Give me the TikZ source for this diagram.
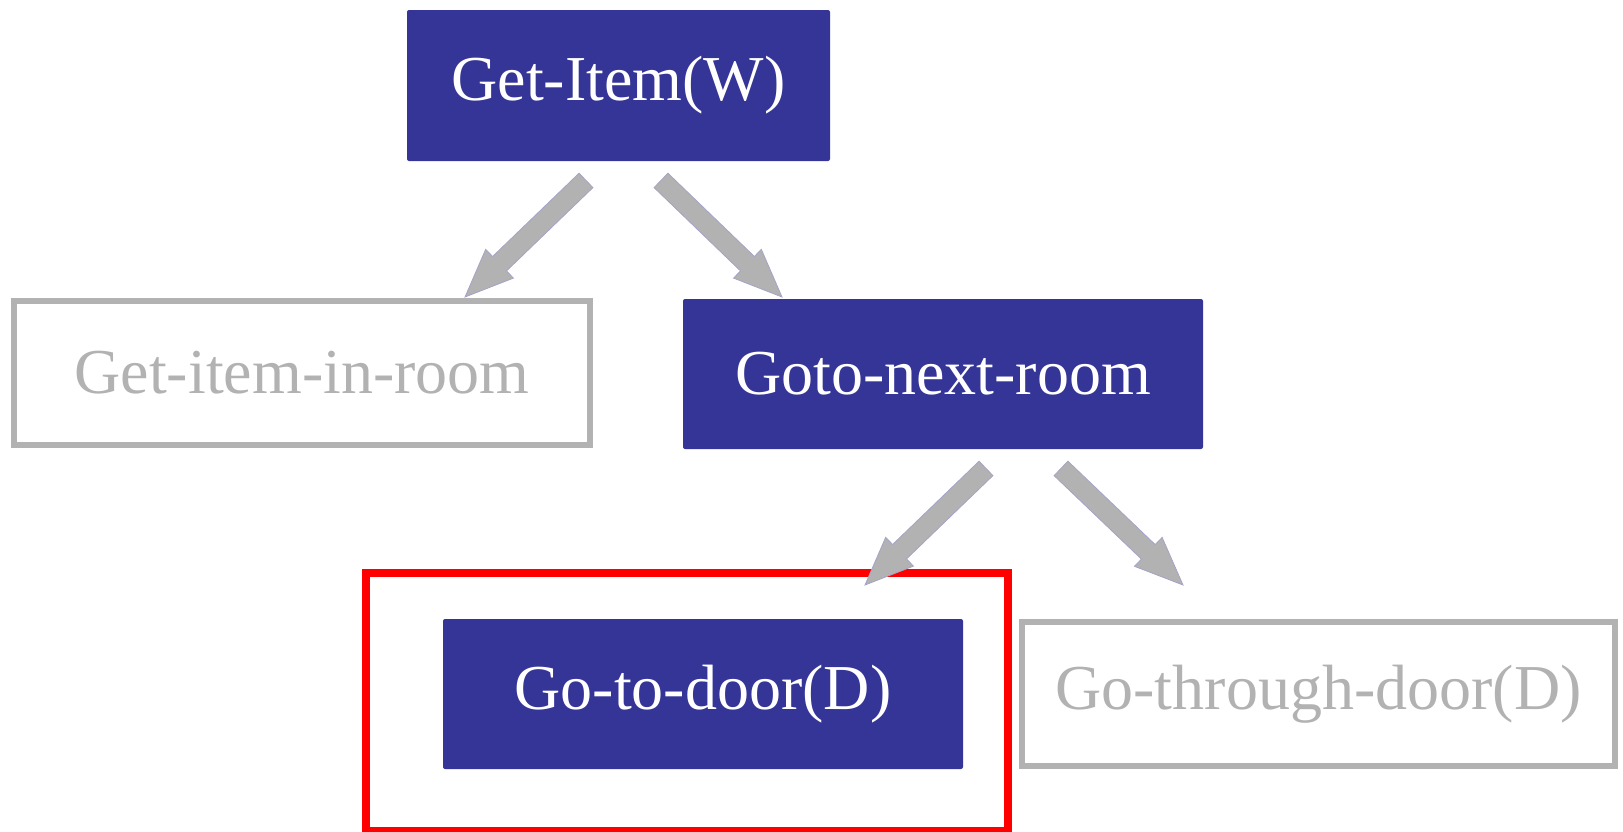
\documentclass[tikz,border=0pt]{standalone}
\usepackage{fontspec}
\setmainfont{Liberation Serif}
\usetikzlibrary{calc}
\definecolor{taskblue}{HTML}{353598}
\definecolor{idlegray}{HTML}{B2B2B2}
\definecolor{arrowedge}{HTML}{A4A4C8}
% block arrow from #1 to #2: shaft half width 5pt, head half width 10pt, head length 24pt
\newcommand{\blockarrow}[2]{%
  \coordinate (hb) at ($(#2)!24pt!(#1)$);
  \filldraw[fatarrow]
    ($(#1)!5pt!90:(#2)$) -- ($(hb)!5pt!-90:(#1)$) -- ($(hb)!10pt!-90:(#1)$) --
    (#2) --
    ($(hb)!10pt!90:(#1)$) -- ($(hb)!5pt!90:(#1)$) -- ($(#1)!5pt!-90:(#2)$) -- cycle;}
\begin{document}
\begin{tikzpicture}[x=0.5pt,y=-0.5pt,
  every node/.style={font=\fontsize{32pt}{38pt}\selectfont, inner sep=0pt},
  active/.style={fill=taskblue, text=white, rounded corners=1pt, minimum width=260pt, minimum height=75pt},
  idle/.style={draw=idlegray, line width=3pt, text=idlegray, minimum height=72pt},
  focus/.style={draw=red, line width=4pt, minimum width=321pt, minimum height=129pt},
  fatarrow/.style={fill=idlegray, draw=arrowedge, line width=0.4pt, line join=miter}]
  \useasboundingbox (0,0) rectangle (1623,831);

  % task nodes
  \node[active, minimum width=211.5pt, minimum height=75.5pt] (getitem) at (618.5,85.5) {Get-Item(W)};
  \node[idle, minimum width=288pt] (inroom) at (302,373) {Get-item-in-room};
  \node[active] (nextroom) at (943,374) {Goto-next-room};
  \node[focus] (current) at (687,702) {};
  \node[active] (todoor) at (703,694) {Go-to-door(D)};
  \node[idle, minimum width=296.5pt] (through) at (1318.5,694) {Go-through-door(D)};

  % arrow ends
  \coordinate (a1s) at ($(getitem.south)+(-32.5,19)$);
  \coordinate (a2s) at ($(getitem.south)+(42.5,19)$);
  \coordinate (a1e) at (465,297);
  \coordinate (a2e) at (782,297);
  \coordinate (a3s) at ($(nextroom.south)+(43,19)$);
  \coordinate (a4s) at ($(nextroom.south)+(118,19)$);
  \coordinate (a3e) at (865,585);
  \coordinate (a4e) at (1183,585);

  % decomposition arrows
  \blockarrow{a1s}{a1e}
  \blockarrow{a2s}{a2e}
  \blockarrow{a3s}{a3e}
  \blockarrow{a4s}{a4e}
\end{tikzpicture}
\end{document}
